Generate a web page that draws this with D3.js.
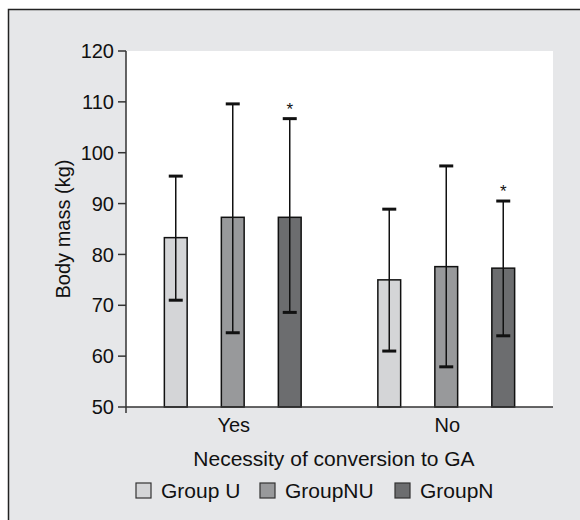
<!DOCTYPE html>
<html><head><meta charset="utf-8">
<script src="https://cdn.jsdelivr.net/npm/d3@7"></script>
<style>body{margin:0;background:#fff}svg{display:block}text{font-family:"Liberation Sans",Arial,sans-serif;fill:#111}</style>
</head><body>
<script>
const categories = ["Yes", "No"];
const groups = ["Group U", "GroupNU", "GroupN"];
const colors = ["#d4d5d7", "#98999b", "#6c6d6f"];
const means = [[83.3, 87.3, 87.3], [75.0, 77.6, 77.3]];
const upper = [[95.4, 109.6, 106.7], [88.9, 97.4, 90.5]];
const lower = [[71.0, 64.6, 68.6], [61.0, 57.9, 64.0]];
const significant = [[false, false, true], [false, false, true]];
const yTicks = [50, 60, 70, 80, 90, 100, 110, 120];

const W = 580, H = 520;
const svg = d3.select("body").append("svg").attr("width", W).attr("height", H);
svg.append("rect").attr("x", 0).attr("y", 0).attr("width", W).attr("height", H).attr("fill", "#fff");
svg.append("rect").attr("x", 8).attr("y", 9).attr("width", W).attr("height", H).attr("fill", "#e6e7e9");
svg.append("path").attr("d", `M8.5,${H}V9.5H${W}`).attr("fill", "none").attr("stroke", "#222").attr("stroke-width", 1.5);

const m = {left: 126, right: 553, top: 51, bottom: 407};
svg.append("rect").attr("x", m.left).attr("y", m.top).attr("width", m.right - m.left).attr("height", m.bottom - m.top).attr("fill", "#fff");

const y = d3.scaleLinear().domain([50, 120]).range([m.bottom, m.top]);
const x0 = d3.scaleBand().domain(categories).range([m.left, m.right]).padding(0);
const x1 = d3.scaleBand().domain(groups).range([0, x0.bandwidth()]).paddingInner(0.6).paddingOuter(0.673);

// y axis
const yAxis = svg.append("g");
yAxis.append("line").attr("x1", m.left).attr("x2", m.left).attr("y1", m.top).attr("y2", m.bottom + 6).attr("stroke", "#333").attr("stroke-width", 1.5);
yTicks.forEach(t => {
  yAxis.append("line").attr("x1", m.left - 8).attr("x2", m.left).attr("y1", y(t)).attr("y2", y(t)).attr("stroke", "#333").attr("stroke-width", 1.5);
  yAxis.append("text").attr("x", m.left - 12).attr("y", y(t)).attr("dy", "0.36em").attr("text-anchor", "end").attr("font-size", 20).text(t);
});
svg.append("text").attr("transform", `translate(70,${(m.top + m.bottom) / 2}) rotate(-90)`).attr("text-anchor", "middle").attr("font-size", 20).text("Body mass (kg)");

// bars
categories.forEach((c, ci) => {
  const g = svg.append("g").attr("transform", `translate(${x0(c)},0)`);
  groups.forEach((grp, gi) => {
    const bx = x1(grp), bw = x1.bandwidth(), cx = bx + bw / 2;
    g.append("rect").attr("x", bx).attr("y", y(means[ci][gi])).attr("width", bw).attr("height", y(50) - y(means[ci][gi]))
      .attr("fill", colors[gi]).attr("stroke", "#111").attr("stroke-width", 1.5);
    g.append("line").attr("x1", cx).attr("x2", cx).attr("y1", y(upper[ci][gi])).attr("y2", y(lower[ci][gi])).attr("stroke", "#111").attr("stroke-width", 1.5);
    [upper[ci][gi], lower[ci][gi]].forEach(v => {
      g.append("line").attr("x1", cx - 7).attr("x2", cx + 7).attr("y1", y(v)).attr("y2", y(v)).attr("stroke", "#111").attr("stroke-width", 3);
    });
    if (significant[ci][gi]) {
      g.append("text").attr("x", cx).attr("y", y(upper[ci][gi]) - 4).attr("text-anchor", "middle").attr("font-size", 17).text("*");
    }
  });
  svg.append("text").attr("x", x0(c) + x0.bandwidth() / 2 + 1).attr("y", 432).attr("text-anchor", "middle").attr("font-size", 20).text(c);
});

// x axis line
svg.append("line").attr("x1", m.left).attr("x2", m.right).attr("y1", m.bottom).attr("y2", m.bottom).attr("stroke", "#333").attr("stroke-width", 1.5);

svg.append("text").attr("x", 334).attr("y", 466).attr("text-anchor", "middle").attr("font-size", 21).text("Necessity of conversion to GA");

// legend
const legX = [136, 260, 395];
groups.forEach((grp, gi) => {
  svg.append("rect").attr("x", legX[gi]).attr("y", 483).attr("width", 15).attr("height", 15).attr("fill", colors[gi]).attr("stroke", "#333").attr("stroke-width", 1.2);
  svg.append("text").attr("x", legX[gi] + 25).attr("y", 498).attr("font-size", 21).text(grp);
});
</script>
</body></html>
